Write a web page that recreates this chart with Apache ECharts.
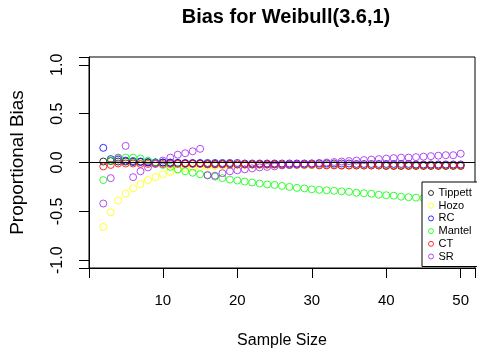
<!DOCTYPE html>
<html>
<head>
<meta charset="utf-8">
<script src="https://cdn.jsdelivr.net/npm/echarts@6/dist/echarts.min.js"></script>
<style>html,body{margin:0;padding:0;background:#fff;}#c{width:477px;height:358px;}</style>
</head>
<body>
<div id="c"></div>
<script>
// Sample sizes 2..50
const sampleSize = [2,3,4,5,6,7,8,9,10,11,12,13,14,15,16,17,18,19,20,21,22,23,24,25,26,27,28,29,30,31,32,33,34,35,36,37,38,39,40,41,42,43,44,45,46,47,48,49,50];
const tippett = [0.01,0.015,0.01,0.01,0.005,0.005,0,0,0,-0.005,-0.005,-0.01,-0.01,-0.01,-0.015,-0.015,-0.015,-0.015,-0.02,-0.02,-0.02,-0.02,-0.02,-0.02,-0.025,-0.025,-0.025,-0.025,-0.025,-0.025,-0.025,-0.025,-0.03,-0.03,-0.03,-0.03,-0.03,-0.03,-0.035,-0.035,-0.035,-0.035,-0.035,-0.035,-0.035,-0.035,-0.035,-0.035,-0.035];
const hozo = [-0.66,-0.51,-0.39,-0.32,-0.265,-0.22,-0.18,-0.15,-0.12,-0.095,-0.075,-0.06,-0.05,-0.045,-0.04,-0.035,-0.03,-0.03,-0.025,-0.025,-0.025,-0.025,-0.025,-0.025,-0.025,-0.025,-0.025,-0.025,-0.025,-0.025,-0.025,-0.025,-0.025,-0.025,-0.025,-0.025,-0.025,-0.025,-0.025,-0.025,-0.025,-0.025,-0.025,-0.025,-0.025,-0.025,-0.025,-0.025,-0.025];
const rc = [0.15,0.035,0.03,0.02,0.015,0.01,0.005,0,0,0,-0.005,-0.005,-0.005,-0.005,-0.005,-0.005,-0.005,-0.005,-0.005,-0.01,-0.01,-0.01,-0.01,-0.01,-0.01,-0.01,-0.01,-0.01,-0.01,-0.01,-0.01,-0.01,-0.01,-0.01,-0.015,-0.015,-0.015,-0.015,-0.015,-0.015,-0.015,-0.015,-0.02,-0.02,-0.02,-0.02,-0.02,-0.02,-0.02];
const mantel = [-0.18,0.02,0.04,0.05,0.05,0.04,0.02,0,-0.025,-0.045,-0.07,-0.09,-0.105,-0.12,-0.13,-0.145,-0.16,-0.175,-0.185,-0.195,-0.205,-0.215,-0.225,-0.23,-0.24,-0.25,-0.26,-0.265,-0.275,-0.28,-0.285,-0.29,-0.295,-0.3,-0.31,-0.315,-0.32,-0.33,-0.335,-0.34,-0.35,-0.355,-0.36,-0.365,-0.37,-0.375,-0.38,-0.385,-0.39];
const ct = [-0.04,-0.025,-0.01,-0.01,-0.01,-0.015,-0.015,-0.015,-0.015,-0.015,-0.015,-0.015,-0.015,-0.015,-0.02,-0.02,-0.02,-0.02,-0.02,-0.02,-0.02,-0.02,-0.02,-0.02,-0.02,-0.02,-0.02,-0.02,-0.02,-0.03,-0.03,-0.03,-0.03,-0.03,-0.03,-0.03,-0.03,-0.03,-0.03,-0.03,-0.03,-0.03,-0.03,-0.03,-0.03,-0.03,-0.03,-0.03,-0.03];
const sr = [-0.42,-0.16,0.05,0.17,-0.15,-0.09,-0.05,-0.01,0.02,0.05,0.08,0.095,0.115,0.14,-0.13,-0.135,-0.11,-0.09,-0.08,-0.07,-0.06,-0.05,-0.045,-0.04,-0.03,-0.025,-0.02,-0.015,-0.01,-0.005,0,0.005,0.01,0.015,0.02,0.025,0.03,0.035,0.04,0.045,0.05,0.05,0.055,0.06,0.065,0.07,0.075,0.075,0.09];

const seriesNames = ['Tippett','Hozo','RC','Mantel','CT','SR'];
const seriesValues = [tippett, hozo, rc, mantel, ct, sr];
const seriesColors = ['#000000','#FFFF00','#0000FF','#00FF00','#FF0000','#A020F0'];
const xTicks = [10,20,30,40,50];
const yTicks = [-1,-0.5,0,0.5,1];

const FONT = '"Liberation Sans", Arial, sans-serif';
const chart = echarts.init(document.getElementById('c'), null, {renderer:'canvas'});

const series = seriesNames.map((name, i) => {
  const s = {
    name: name,
    type: 'scatter',
    symbol: 'circle',
    symbolSize: 7,
    itemStyle: {color: 'rgba(0,0,0,0)', borderColor: seriesColors[i], borderWidth: 1},
    data: sampleSize.map((n, k) => [n, seriesValues[i][k]]),
    animation: false
  };
  if (i === 0) {
    s.markLine = {
      silent: true, symbol: ['none','none'], label: {show:false},
      lineStyle: {color:'#000', width:1, type:'solid'},
      data: [{yAxis: 0}],
      animation: false
    };
  }
  return s;
});

chart.setOption({
  animation: false,
  backgroundColor: '#fff',
  title: {
    text: 'Bias for Weibull(3.6,1)',
    left: 281, top: 2, textAlign: 'center',
    textStyle: {fontFamily: FONT, fontSize: 20, fontWeight: 'bold', color: '#000'}
  },
  grid: {left: 85, right: 2, top: 57, bottom: 90, show: true, borderColor: '#000', borderWidth: 1, backgroundColor: 'transparent'},
  xAxis: {
    type: 'value', min: 0.08, max: 51.92,
    name: 'Sample Size', nameLocation: 'middle', nameGap: 65,
    nameTextStyle: {fontFamily: FONT, fontSize: 16, color: '#000'},
    axisLine: {show: true, onZero: false, lineStyle: {color: '#000', width: 1}},
    splitLine: {show: false},
    axisTick: {show: true, length: 10, inside: false, lineStyle: {color:'#000'}},
    axisLabel: {customValues: xTicks, margin: 25, fontFamily: FONT, fontSize: 15, color: '#000'}
  },
  yAxis: {
    type: 'value', min: -1.08, max: 1.08,
    name: 'Proportional Bias', nameLocation: 'middle', nameGap: 62, nameRotate: 90,
    nameTextStyle: {fontFamily: FONT, fontSize: 19, color: '#000'},
    axisLine: {show: true, onZero: false, lineStyle: {color: '#000', width: 1}},
    splitLine: {show: false},
    axisTick: {show: true, length: 10, inside: false, lineStyle: {color:'#000', width: 1}},
    axisLabel: {customValues: yTicks, rotate: 90, margin: 23, fontFamily: FONT, fontSize: 16, color: '#000',
      formatter: v => v.toFixed(1)}
  },
  legend: {
    data: seriesNames,
    orient: 'vertical',
    left: 422, top: 182,
    padding: [5, 40, 4, 6],
    itemGap: 0.7,
    itemWidth: 5, itemHeight: 5,
    icon: 'circle',
    itemStyle: {borderWidth: 1},
    backgroundColor: '#fff',
    borderColor: '#000', borderWidth: 1, borderRadius: 0,
    textStyle: {fontFamily: FONT, fontSize: 11, color: '#000', lineHeight: 12},
    selectedMode: false
  },
  series: series
});
</script>
</body>
</html>
